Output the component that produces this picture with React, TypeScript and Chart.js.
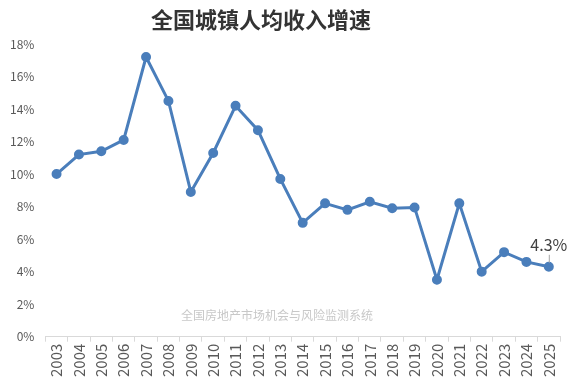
import React, { useEffect, useRef } from "react";
import { Chart, registerables } from "chart.js";

Chart.register(...registerables);

const years = ["2003","2004","2005","2006","2007","2008","2009","2010","2011","2012","2013","2014","2015","2016","2017","2018","2019","2020","2021","2022","2023","2024","2025"];
const growth = [10.0, 11.2, 11.4, 12.1, 17.2, 14.5, 8.9, 11.3, 14.2, 12.7, 9.7, 7.0, 8.2, 7.8, 8.3, 7.9, 7.95, 3.5, 8.2, 4.0, 5.2, 4.6, 4.3];
const titleText = "全国城镇人均收入增速";
const watermarkText = "全国房地产市场机会与风险监测系统";
const lastLabel = "4.3%";

const CJK = '"Noto Sans CJK SC", "Noto Sans", sans-serif';

const extrasPlugin = {
  id: "extras",
  afterDraw(chart: any) {
    const ctx = chart.ctx;
    const area = chart.chartArea;
    ctx.save();
    // title
    ctx.font = `bold 22px ${CJK}`;
    ctx.fillStyle = "#333333";
    ctx.textAlign = "center";
    ctx.textBaseline = "middle";
    ctx.fillText(titleText, 261, 20);
    // watermark
    ctx.font = `12px ${CJK}`;
    ctx.fillStyle = "#c8c8c8";
    ctx.fillText(watermarkText, 277, area.bottom - 21);
    // last data label
    const meta = chart.getDatasetMeta(0);
    const pt = meta.data[meta.data.length - 1];
    ctx.strokeStyle = "#a6a6a6";
    ctx.lineWidth = 1;
    ctx.beginPath();
    ctx.moveTo(pt.x + 0.5, pt.y - 4);
    ctx.lineTo(pt.x + 0.5, pt.y - 12);
    ctx.stroke();
    ctx.font = `16px ${CJK}`;
    ctx.fillStyle = "#404040";
    ctx.textAlign = "center";
    ctx.textBaseline = "alphabetic";
    ctx.fillText(lastLabel, pt.x, pt.y - 16);
    ctx.restore();
  },
};

export default function App() {
  const ref = useRef<HTMLCanvasElement>(null);
  useEffect(() => {
    if (!ref.current) return;
    const chart = new Chart(ref.current, {
      type: "line",
      data: {
        labels: years,
        datasets: [
          {
            data: growth,
            borderColor: "#4a7ebb",
            backgroundColor: "#4a7ebb",
            borderWidth: 3,
            pointRadius: 3.5,
            pointHoverRadius: 3.5,
            tension: 0,
          },
        ],
      },
      options: {
        responsive: false,
        animation: false,
        layout: { padding: { left: 7, right: 14, top: 44, bottom: 13 } },
        plugins: {
          legend: { display: false },
          tooltip: { enabled: false },
          title: { display: false },
        },
        scales: {
          x: {
            offset: true,
            grid: {
              display: true,
              offset: true,
              drawOnChartArea: false,
              drawTicks: true,
              tickLength: 5,
              color: "#d9d9d9",
            },
            border: { display: true, color: "#d9d9d9" },
            ticks: {
              maxRotation: 90,
              minRotation: 90,
              autoSkip: false,
              color: "#595959",
              font: { size: 15, family: CJK },
              padding: 2,
            },
          },
          y: {
            min: 0,
            max: 18,
            grid: { display: false },
            border: { display: false },
            ticks: {
              stepSize: 2,
              color: "#595959",
              font: { size: 12, family: CJK },
              padding: 3,
              callback: (v: any) => `${v}%`,
            },
          },
        },
      },
      plugins: [extrasPlugin],
    });
    return () => chart.destroy();
  }, []);
  return (
    <div style={{ position: "absolute", left: 0, top: 0, width: 574, height: 392, background: "#fff" }}>
      <canvas ref={ref} width={574} height={392} />
    </div>
  );
}
